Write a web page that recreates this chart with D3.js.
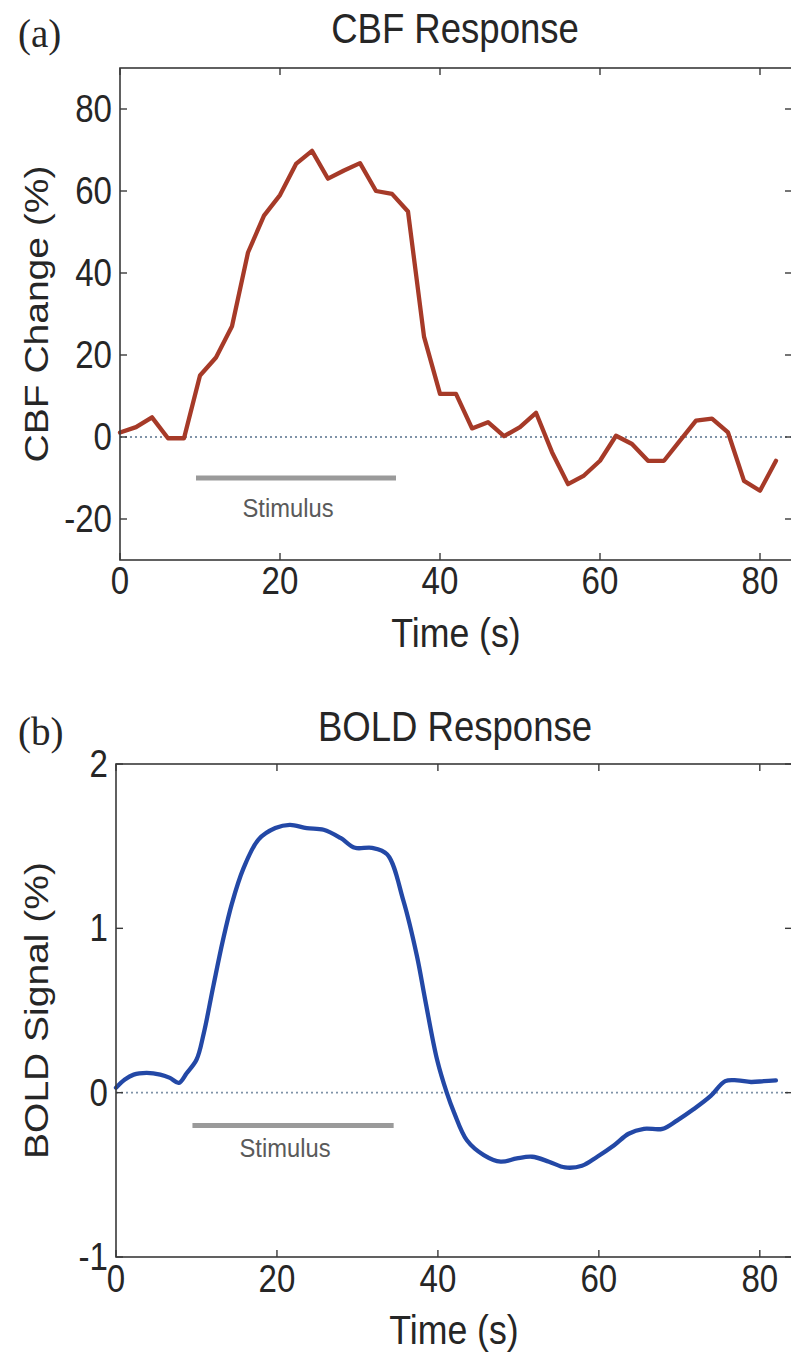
<!DOCTYPE html>
<html>
<head>
<meta charset="utf-8">
<script src="https://cdn.jsdelivr.net/npm/d3@7"></script>
<style>
  html, body { margin: 0; padding: 0; background: #fff; }
  svg { display: block; }
</style>
</head>
<body>
<script>
// ---------- DATA ----------
const cbfTime = [0,2,4,6,8,10,12,14,16,18,20,22,24,26,28,30,32,34,36,38,40,42,44,46,48,50,52,54,56,58,60,62,64,66,68,70,72,74,76,78,80,82];
const cbfChange = [1.1,2.4,4.8,-0.3,-0.3,15,19.4,27,45,54,59,66.6,69.8,63,65,66.8,60,59.3,55,24.5,10.5,10.5,2.1,3.6,0.2,2.4,5.9,-3.7,-11.5,-9.4,-5.8,0.3,-1.7,-5.8,-5.8,-0.9,4,4.5,1.1,-10.7,-13.1,-5.8];

const boldTime = [0,1.1,2.2,3.8,5.5,6.7,7.8,8.8,10,10.9,12.1,13.3,14.4,15.8,17.7,19.8,21.6,23.7,25.8,27.9,29.7,31.8,33.7,35.7,37.4,38.4,39.9,41.1,42,43.6,45.7,47.8,49.8,51.7,53.8,55.8,57.9,59.8,61.9,63.7,65.6,67.9,69.7,71.8,73.9,75.7,77.2,78.9,80.5,82];
const boldSignal = [0.03,0.08,0.11,0.12,0.11,0.09,0.06,0.12,0.2,0.36,0.65,0.93,1.15,1.36,1.54,1.61,1.63,1.61,1.6,1.55,1.49,1.49,1.45,1.17,0.83,0.57,0.2,0,-0.12,-0.29,-0.38,-0.42,-0.4,-0.39,-0.42,-0.455,-0.445,-0.39,-0.32,-0.25,-0.22,-0.22,-0.17,-0.1,-0.02,0.07,0.075,0.065,0.07,0.075];

const stimulusInterval = [9.5, 34.5];
const xTicks = [0,20,40,60,80];
const cbfTicks = [-20,0,20,40,60,80];
const boldTicks = [-1,0,1,2];
const xDomain = [0, 84];
const cbfDomain = [-30, 90];
const boldDomain = [-1, 2];

// ---------- DRAW ----------
const W = 791, H = 1353;
const svg = d3.select("body").append("svg").attr("width", W).attr("height", H);
svg.append("rect").attr("width", W).attr("height", H).attr("fill", "#fff");

const SANS = "'Liberation Sans', Arial, Helvetica, sans-serif";
const SERIF = "'Liberation Serif', 'Times New Roman', serif";
const TXT = "#262626";
const AX = "#3a3a3a";

function txt(g, s, x, y, opt) {
  opt = opt || {};
  const sx = opt.sx == null ? 0.87 : opt.sx;
  const rot = opt.rotate ? " rotate(-90)" : "";
  const sc = opt.rotate ? ` scale(1,${sx})` : ` scale(${sx},1)`;
  return g.append("text")
    .attr("transform", `translate(${x},${y})${rot}${sc}`)
    .attr("text-anchor", opt.anchor || "middle")
    .attr("font-family", opt.family || SANS)
    .attr("font-size", opt.size || 38)
    .attr("fill", opt.fill || TXT)
    .text(s);
}

function panel(cfg) {
  const g = svg.append("g");
  const x = d3.scaleLinear().domain(xDomain).range([cfg.left, cfg.right]);
  const y = d3.scaleLinear().domain(cfg.yDomain).range([cfg.bottom, cfg.top]);
  const tl = 7;

  // zero dotted line
  g.append("line")
    .attr("x1", x(xDomain[0])).attr("x2", x(xDomain[1]))
    .attr("y1", y(0)).attr("y2", y(0))
    .attr("stroke", "#8093a8").attr("stroke-width", 1.8)
    .attr("stroke-dasharray", "2,3");

  // stimulus bar
  g.append("line")
    .attr("x1", x(stimulusInterval[0])).attr("x2", x(stimulusInterval[1]))
    .attr("y1", y(cfg.stimY)).attr("y2", y(cfg.stimY))
    .attr("stroke", "#9a9a9a").attr("stroke-width", 5);
  txt(g, "Stimulus", x(cfg.stimLabelX), y(cfg.stimLabelY), {size: 25, sx: 0.95, fill: "#5a5a5a"});

  // data line
  const data = cfg.t.map((t, i) => [t, cfg.v[i]]);
  g.append("path").datum(data)
    .attr("fill", "none")
    .attr("stroke", cfg.color).attr("stroke-width", 4.3)
    .attr("stroke-linejoin", "round").attr("stroke-linecap", "round")
    .attr("d", d3.line().x(d => x(d[0])).y(d => y(d[1])).curve(cfg.curve));

  // box
  g.append("rect")
    .attr("x", cfg.left).attr("y", cfg.top)
    .attr("width", cfg.right - cfg.left).attr("height", cfg.bottom - cfg.top)
    .attr("fill", "none").attr("stroke", AX).attr("stroke-width", 1.6);

  // x ticks (bottom & top, inward)
  xTicks.forEach(t => {
    g.append("line").attr("x1", x(t)).attr("x2", x(t)).attr("y1", cfg.bottom).attr("y2", cfg.bottom - tl)
      .attr("stroke", AX).attr("stroke-width", 1.4);
    g.append("line").attr("x1", x(t)).attr("x2", x(t)).attr("y1", cfg.top).attr("y2", cfg.top + tl)
      .attr("stroke", AX).attr("stroke-width", 1.4);
    txt(g, String(t), x(t), cfg.bottom + cfg.xLabelOff, {size: 38});
  });
  // y ticks (left & right, inward)
  cfg.yTicks.forEach(v => {
    g.append("line").attr("x1", cfg.left).attr("x2", cfg.left + tl).attr("y1", y(v)).attr("y2", y(v))
      .attr("stroke", AX).attr("stroke-width", 1.4);
    g.append("line").attr("x1", cfg.right).attr("x2", cfg.right - tl).attr("y1", y(v)).attr("y2", y(v))
      .attr("stroke", AX).attr("stroke-width", 1.4);
    txt(g, String(v), cfg.left - 8, y(v) + 13, {size: 38, anchor: "end"});
  });

  // labels
  txt(g, "Time (s)", (cfg.left + cfg.right) / 2, cfg.bottom + 87, {size: 41});
  txt(g, cfg.ylabel, 48, (cfg.top + cfg.bottom) / 2, {size: 39, rotate: true});
  txt(g, cfg.title, 455, cfg.titleY, {size: 42});
  txt(g, cfg.panel, 18, cfg.panelY, {size: 39, sx: 1, anchor: "start", family: SERIF});
}

panel({
  left: 120, right: 792, top: 68, bottom: 560,
  yDomain: cbfDomain, yTicks: cbfTicks,
  t: cbfTime, v: cbfChange, color: "#a63a28", curve: d3.curveLinear,
  stimY: -10, stimLabelX: 21, stimLabelY: -19.5,
  xLabelOff: 34,
  ylabel: "CBF Change (%)", title: "CBF Response", titleY: 43,
  panel: "(a)", panelY: 47
});

panel({
  left: 116, right: 792, top: 764, bottom: 1257,
  yDomain: boldDomain, yTicks: boldTicks,
  t: boldTime, v: boldSignal, color: "#2348a6", curve: d3.curveCatmullRom,
  stimY: -0.2, stimLabelX: 21, stimLabelY: -0.39,
  xLabelOff: 35,
  ylabel: "BOLD Signal (%)", title: "BOLD Response", titleY: 741,
  panel: "(b)", panelY: 745
});
</script>
</body>
</html>
